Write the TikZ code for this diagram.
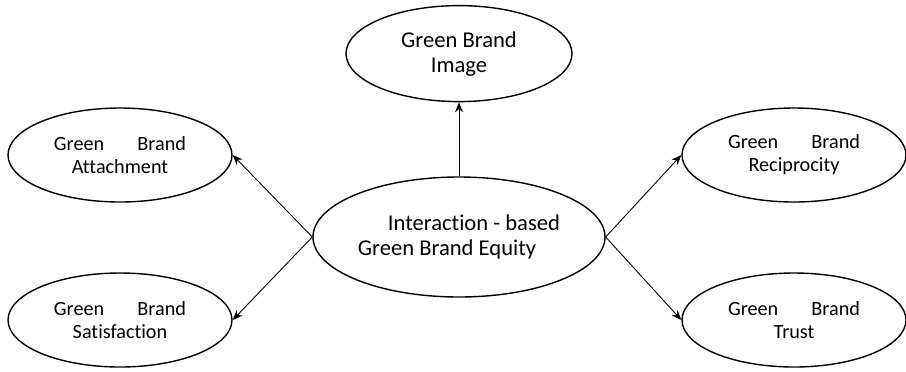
\documentclass[tikz,border=0pt]{standalone}
\usepackage{fontspec}
\setmainfont{Carlito}[Ligatures=NoCommon]
\usetikzlibrary{shapes.geometric, arrows.meta, positioning}

\begin{document}
\begin{tikzpicture}[
          x=0.5pt, y=-0.5pt,
          bigitem/.style={draw, ellipse, line width=0.7pt, inner sep=0pt,
            font=\fontsize{11.3}{12.5}\selectfont},
          sideitem/.style={draw, ellipse, line width=0.7pt, inner sep=0pt,
            minimum width=112pt, minimum height=47pt, align=center, text width=66pt,
            font=\fontsize{10.1}{11.5}\selectfont},
          link/.style={-{Stealth[length=5pt, width=4pt]}, line width=0.45pt},
          >=stealth
        ]
          \useasboundingbox (0,0) rectangle (906,371);

          % ノードの配置
          \node[bigitem, minimum width=146pt, minimum height=60pt, align=left] (equity) at (459,237)
            {\hspace{15pt}Interaction - based\\Green Brand Equity\hspace{4pt}};
          \node[bigitem, minimum width=113pt, minimum height=48pt, align=center] (image) [above=37pt of equity]
            {Green Brand\\Image};
          \node[sideitem] (attach) at (120,155) {Green\hfill Brand\\Attachment};
          \node[sideitem] (satis) at (120,320) {Green\hfill Brand\\Satisfaction};
          \node[sideitem] (recip) at (794,155) {Green\hfill Brand\\Reciprocity};
          \node[sideitem] (trust) at (794,320) {Green\hfill Brand\\Trust};

          % 矢印
          \draw[link] (equity.north) -- (image.south);
          \draw[link] (equity.west) -- (attach.east);
          \draw[link] (equity.west) -- (satis.east);
          \draw[link] (equity.east) -- (recip.west);
          \draw[link] (equity.east) -- (trust.west);
        \end{tikzpicture}
\end{document}
